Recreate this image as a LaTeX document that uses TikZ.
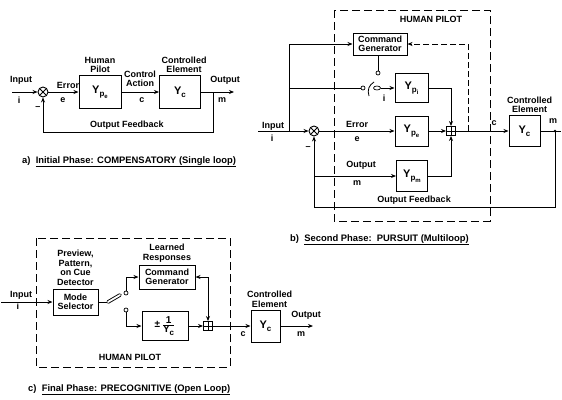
\documentclass[tikz,border=0pt]{standalone}
\usepackage{fontspec}
\setmainfont{Liberation Sans}
\usetikzlibrary{arrows.meta,positioning,shapes.geometric,calc}
\newcommand{\Yp}[1]{Y\raisebox{-0.5ex}{\fontsize{8}{8}\selectfont p\raisebox{-0.5ex}{\fontsize{6}{6}\selectfont #1}}}
\newcommand{\Yc}{Y\raisebox{-0.5ex}{\fontsize{8}{8}\selectfont c}}
\tikzset{
  blockbox/.style={
    rectangle, draw=black, line width=1pt, inner sep=1pt, align=center,
    font=\fontsize{9}{9.5}\selectfont\bfseries
  },
  bigY/.style={font=\fontsize{11}{11}\selectfont\bfseries},
  sumcirc/.style={circle, draw=black, line width=0.9pt, minimum size=10pt, inner sep=0pt,
    path picture={\draw[line width=0.8pt]
      (path picture bounding box.north west) -- (path picture bounding box.south east)
      (path picture bounding box.north east) -- (path picture bounding box.south west);}},
  sumbox/.style={rectangle, draw=black, line width=0.9pt, minimum size=9pt, inner sep=0pt,
    path picture={\draw[line width=0.8pt]
      (path picture bounding box.north) -- (path picture bounding box.south)
      (path picture bounding box.west) -- (path picture bounding box.east);}},
  sigline/.style={line width=0.9pt},
  sigarrow/.style={sigline, -{Stealth[length=5pt,width=4pt]}},
  pilotbox/.style={line width=1pt, dash pattern=on 8pt off 4pt},
  contact/.style={circle, draw=black, line width=0.7pt, minimum size=4pt, inner sep=0pt},
  lbl/.style={font=\fontsize{9}{9.5}\selectfont\bfseries, align=center, inner sep=0pt},
  capt/.style={font=\fontsize{9.4}{10}\selectfont\bfseries, inner sep=0pt, anchor=base west}
}
\begin{document}
\begin{tikzpicture}[x=1pt, y=-1pt]
\useasboundingbox (0,0) rectangle (562,399);

% a) compensatory
\node[sumcirc] (sa) at (43,92) {};
\node[blockbox, bigY, minimum width=42pt, minimum height=33pt] (ypea) at (100,92) {\Yp{e}};
\node[blockbox, bigY, minimum width=41pt, minimum height=33pt] (yca) at (180,92) {\Yc};
\coordinate (ina) at (12,92);
\coordinate (ma) at (213,92);
\coordinate (outa) at (234,92);
\coordinate (fba) at (43,132);
\draw[sigarrow] (ina) -- (sa);
\draw[sigarrow] (sa) -- (ypea);
\draw[sigarrow] (ypea) -- (yca);
\draw[sigarrow] (yca) -- (outa);
\draw[sigarrow] (ma) -- (ma |- fba) -- (fba) -- (sa);
\node[lbl] (inlbla) at (21,80) {Input};
\node[lbl] (ilbla) at (19,100) {i};
\node[lbl] (errlbla) at (68,85) {Error};
\node[lbl] (elbla) at (63,100) {e};
\node[lbl, above=2pt of ypea] (pilotlbla) {Human\\Pilot};
\node[lbl] (actlbla) at (140,79) {Control\\Action};
\node[lbl] (clbla) at (142,100) {c};
\node[lbl, above=2pt of yca, xshift=4pt] (ctrllbla) {Controlled\\Element};
\node[lbl] (outlbla) at (225,80) {Output};
\node[lbl] (mlbla) at (222,100) {m};
\node[lbl] (minusa) at (38,108) {--};
\node[lbl] (fblbla) at (127,125) {Output Feedback};
\node[capt] (capa) at (22,163) {a)\ \ \underline{Initial Phase: COMPENSATORY (Single loop)}};

% b) pursuit
\draw[pilotbox] (334,10) rectangle (490,221);
\node[lbl] (pilotlblb) at (431,19) {HUMAN PILOT};
\node[blockbox, minimum width=54pt, minimum height=22pt] (cmdb) at (380,44) {Command\\Generator};
\node[sumcirc] (sb) at (314,131) {};
\node[blockbox, bigY, minimum width=33pt, minimum height=29pt] (ypi) at (411.5,88) {\Yp{i}};
\node[blockbox, bigY, minimum width=33pt, minimum height=30pt] (ypeb) at (411.5,131) {\Yp{e}};
\node[blockbox, bigY, minimum width=31pt, minimum height=31pt] (ypm) at (412,176) {\Yp{m}};
\node[sumbox] (sbx) at (451,131) {};
\node[blockbox, bigY, minimum width=31pt, minimum height=31pt] (ycb) at (524.5,131) {\Yc};
\coordinate (inb) at (258,131);
\coordinate (brb) at (289,131);
\coordinate (cb) at (468,131);
\coordinate (mb) at (555,131);
\coordinate (outb) at (561,131);
\coordinate (fbb) at (314,207);
\coordinate (brm) at (314,176);
% switch on the input path
\node[contact] (swl) at (363,88) {};
\node[draw, ellipse, line width=0.7pt, minimum width=7pt, minimum height=4pt, inner sep=0pt] (swr) at (377,88) {};
\node[contact] (swc) at (378,73) {};
\draw[line width=0.8pt] (369,96) .. controls (367,90) and (369,85) .. (374,82);
\draw[sigline] (cmdb.south -| swc) -- (swc);
\draw[sigarrow] (inb) -- (sb);
\draw[sigarrow] (brb) -- (brb |- cmdb) -- (cmdb);
\draw[sigline] (brb |- swl) -- (swl);
\draw[sigarrow] (swr) -- (ypi);
\draw[sigarrow] (sb) -- (ypeb);
\draw[sigarrow] (ypeb) -- (sbx);
\draw[sigarrow] (ypi.east) -| (sbx.north);
\draw[sigarrow] (ypm.east) -| (sbx.south);
\draw[sigarrow] (sbx) -- (ycb);
\draw[sigline] (ycb) -- (outb);
\fill (mb) circle (1.3pt);
\draw[sigarrow] (mb) -- (mb |- fbb) -- (fbb) -- (sb);
\draw[sigarrow] (brm) -- (ypm);
\draw[sigarrow, dash pattern=on 6pt off 3pt] (cb) -- (cb |- cmdb) -- (cmdb);
\node[lbl] (inlblb) at (273,126) {Input};
\node[lbl] (ilblb) at (272,138) {i};
\node[lbl] (errlblb) at (357,124) {Error};
\node[lbl] (elblb) at (357,139) {e};
\node[lbl] (ilblsw) at (384,98) {i};
\node[lbl] (outlblb) at (361,165) {Output};
\node[lbl] (mlblm) at (357,183) {m};
\node[lbl] (minusb) at (308,148) {--};
\node[lbl] (fblblb) at (414,200) {Output Feedback};
\node[lbl] (clblb) at (494,123) {c};
\node[lbl, above=2pt of ycb, xshift=5pt] (ctrllblb) {Controlled\\Element};
\node[lbl] (mlblb) at (553,121) {m};
\node[capt] (capb) at (290,241) {b)\ \ \underline{Second Phase:\ \ PURSUIT (Multiloop)}};

% c) precognitive
\draw[pilotbox] (36,238) rectangle (230,367);
\node[blockbox, minimum width=45pt, minimum height=26pt] (mode) at (75.5,302) {Mode\\Selector};
\node[blockbox, minimum width=56pt, minimum height=24pt] (cmdc) at (167,277) {Command\\Generator};
\node[blockbox, minimum width=46pt, minimum height=29pt, font=\fontsize{10}{10}\selectfont\bfseries] (inv) at (165,326) {±\,$\frac{\mbox{1}}{\mbox{\Yc}}$};
\node[sumbox] (sbc) at (208,326) {};
\node[blockbox, bigY, minimum width=29pt, minimum height=32pt] (ycc) at (265.5,326) {\Yc};
\coordinate (inc) at (1,302);
\coordinate (swp) at (108,302);
\coordinate (swe) at (120,295);
\coordinate (outc) at (313,326);
\node[contact] (swu) at (126,293) {};
\node[contact] (swd) at (126,310) {};
\draw[sigarrow] (inc) -- (mode);
\draw[sigline] (mode.east |- swp) -- (swp);
\draw[line width=3.6pt, line cap=round] (swp) -- (swe);
\draw[line width=1.8pt, line cap=round, white] (swp) -- (swe);
\draw[sigarrow] (swu) -- (swu |- cmdc) -- (cmdc);
\draw[sigarrow] (swd) |- (inv);
\draw[sigarrow] (inv) -- (sbc);
\draw[sigline, {Stealth[length=5pt,width=4pt]}-{Stealth[length=5pt,width=4pt]}] (cmdc.east) -| (sbc.north);
\draw[sigarrow] (sbc) -- (ycc);
\draw[sigarrow] (ycc) -- (outc);
\node[lbl] (inlblc) at (21,295) {Input};
\node[lbl] (ilblc) at (18,306) {i};
\node[lbl, above=3pt of mode] (detlblc) {Preview,\\Pattern,\\on Cue\\Detector};
\node[lbl, above=2pt of cmdc] (learnlblc) {Learned\\Responses};
\node[lbl, above=2pt of ycc, xshift=4pt] (ctrllblc) {Controlled\\Element};
\node[lbl] (clblc) at (243,334) {c};
\node[lbl] (outlblc) at (306,315) {Output};
\node[lbl] (mlblc) at (301,334) {m};
\node[lbl] (pilotlblc) at (130,357) {HUMAN PILOT};
\node[capt] (capc) at (28,391) {c)\ \ \underline{Final Phase: PRECOGNITIVE (Open Loop)}};
\end{tikzpicture}
\end{document}
